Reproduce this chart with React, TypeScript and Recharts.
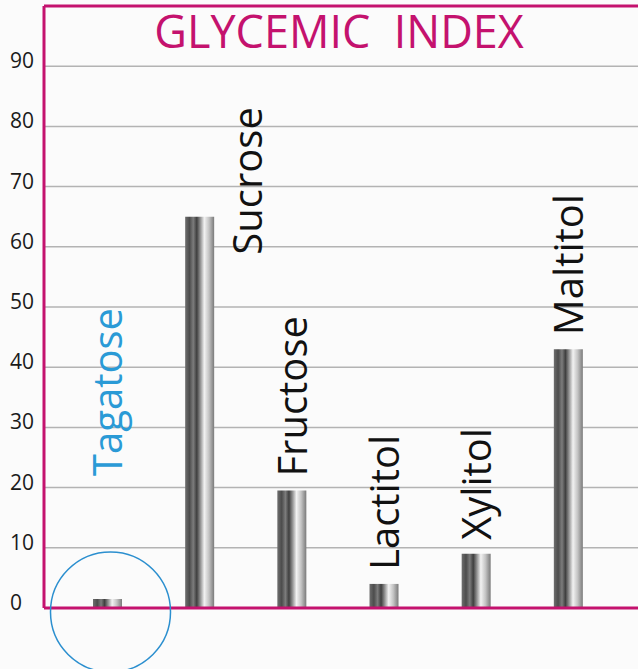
import React from 'react';
import { BarChart, Bar, XAxis, YAxis, CartesianGrid, ReferenceLine, LabelList } from 'recharts';

const categories = ['Tagatose', 'Sucrose', 'Fructose', 'Lactitol', 'Xylitol', 'Maltitol'];
const glycemicIndex = [1.5, 65, 19.5, 4, 9, 43];
const yTicks = [0, 10, 20, 30, 40, 50, 60, 70, 80, 90];

const data = categories.map((name, i) => ({ name, gi: glycemicIndex[i] }));

const MAGENTA = '#c4126e';
const BLUE = '#2a9ad6';
const FONT = '"Open Sans", "Noto Sans", sans-serif';

const YTick = ({ y, payload }: any) => (
  <text x={10} y={y} dy={2} fontSize={21} fill="#1a1a1a" fontFamily={FONT} textAnchor="start">
    {payload.value}
  </text>
);

const BarLabel = (props: any) => {
  const { x, y, width, height, value } = props;
  const cx = x + width / 2;
  const bottom = y + height;
  let bx = cx + 15;
  let by = y - 14;
  if (value === 'Sucrose') {
    bx = cx + 62;
    by = y + 38;
  }
  const isTagatose = value === 'Tagatose';
  if (isTagatose) {
    bx = cx + 14;
    by = bottom - 132;
  }
  return (
    <g>
      {isTagatose && (
        <circle cx={cx + 3} cy={bottom + 4} r={60} fill="none" stroke="#2b8fcf" strokeWidth={1.5} />
      )}
      <text
        x={bx}
        y={by}
        transform={`rotate(-90 ${bx} ${by})`}
        textAnchor="start"
        fontSize={40}
        fontFamily={FONT}
        fill={isTagatose ? BLUE : '#111'}
      >
        {value}
      </text>
    </g>
  );
};

const Title = ({ viewBox }: any) => (
  <text
    x={viewBox.x + viewBox.width / 2 - 2}
    y={viewBox.y + 42}
    textAnchor="middle"
    fontSize={45}
    fontWeight={500}
    fontFamily={FONT}
    fill={MAGENTA}
  >
    {'GLYCEMIC \u00a0INDEX'}
  </text>
);

export default function App() {
  return (
    <div style={{ position: 'absolute', left: 0, top: 0, width: 638, height: 669, background: '#fbfbfb' }}>
      <BarChart width={638} height={669} data={data} margin={{ top: 6, right: 0, bottom: 60, left: 0 }} barSize={29}>
        <defs>
          <linearGradient id="barShade" x1="0" y1="0" x2="1" y2="0">
            <stop offset="0%" stopColor="#6e6e6e" />
            <stop offset="15%" stopColor="#4c4c4c" />
            <stop offset="28%" stopColor="#7c7c7c" />
            <stop offset="40%" stopColor="#3f3f3f" />
            <stop offset="52%" stopColor="#8f8f8f" />
            <stop offset="66%" stopColor="#f2f2f2" />
            <stop offset="82%" stopColor="#c4c4c4" />
            <stop offset="100%" stopColor="#7a7a7a" />
          </linearGradient>
        </defs>
        <CartesianGrid vertical={false} stroke="#b3b3b3" strokeWidth={1.5} />
        <XAxis
          dataKey="name"
          height={1}
          tick={false}
          tickLine={false}
          padding={{ left: 17, right: 24 }}
          axisLine={{ stroke: MAGENTA, strokeWidth: 3 }}
        />
        <YAxis
          width={44}
          domain={[0, 100]}
          ticks={yTicks}
          tickLine={false}
          tick={<YTick />}
          axisLine={{ stroke: MAGENTA, strokeWidth: 3 }}
        />
        <ReferenceLine y={100} stroke={MAGENTA} strokeWidth={3} label={<Title />} />
        <Bar dataKey="gi" fill="url(#barShade)" isAnimationActive={false}>
          <LabelList dataKey="name" content={<BarLabel />} />
        </Bar>
      </BarChart>
    </div>
  );
}
